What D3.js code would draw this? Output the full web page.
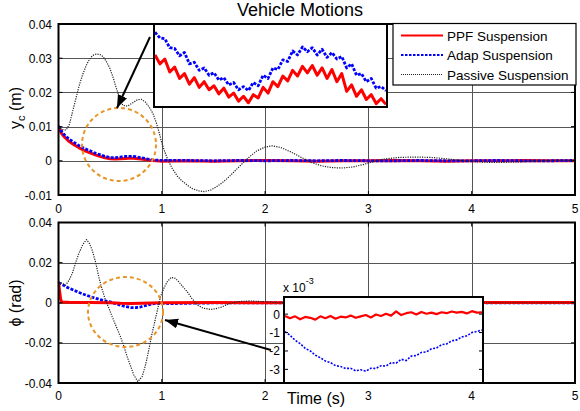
<!DOCTYPE html>
<html>
<head>
<meta charset="utf-8">
<script src="https://cdn.jsdelivr.net/npm/d3@7"></script>
<style>
  html, body { margin: 0; padding: 0; background: #fff; }
  svg { display: block; font-family: 'Liberation Sans', Arial, sans-serif; }
</style>
</head>
<body>
<div id="chart"></div>
<script>
/* ── DATA ── */
const xTicks      = [0, 1, 2, 3, 4, 5];
const topYTicks   = [-0.01, 0, 0.01, 0.02, 0.03, 0.04];
const topYLabels  = ['-0.01', '0', '0.01', '0.02', '0.03', '0.04'];
const botYTicks   = [-0.04, -0.02, 0, 0.02, 0.04];
const botYLabels  = ['-0.04', '-0.02', '0', '0.02', '0.04'];
const insetTicks  = [0, -1, -2, -3];
const legendNames = ['PPF Suspension', 'Adap Suspension', 'Passive Suspension'];

// y_c (m) — [time, value]
const ppfTop = [[0,0.0100],[0.025,0.0082],[0.05,0.0072],[0.1,0.0057],[0.15,0.0047],[0.2,0.0038],[0.25,0.0030],
  [0.3,0.0024],[0.35,0.0018],[0.4,0.0013],[0.45,0.0009],[0.5,0.0006],[0.55,0.0005],[0.6,0.0006],[0.65,0.0007],
  [0.7,0.0008],[0.75,0.0007],[0.8,0.0005],[0.85,0.0003],[0.9,0.0001],[0.95,0.0000],[1.0,-0.0001],[1.25,0.0000],
  [1.5,-0.0001],[1.75,0.0000],[2,0.0001],[2.25,0.0000],[2.5,-0.0001],[2.75,0.0000],[3,0.0000],[3.25,0.0001],
  [3.5,0.0000],[3.75,-0.0001],[4,0.0000],[4.25,0.0000],[4.5,0.0001],[4.75,0.0000],[5,0.0000]];
const adapTop = [[0,0.0102],[0.025,0.0088],[0.05,0.0078],[0.1,0.0064],[0.15,0.0054],[0.2,0.0044],[0.25,0.0036],
  [0.3,0.0030],[0.35,0.0023],[0.4,0.0018],[0.45,0.0013],[0.5,0.0009],[0.55,0.0009],[0.6,0.0011],[0.65,0.0013],
  [0.7,0.0013],[0.75,0.0012],[0.8,0.0009],[0.85,0.0006],[0.9,0.0003],[0.95,0.0002],[1.0,0.0001],[1.25,0.0001],
  [1.5,0.0000],[1.75,0.0001],[2,0.0000],[2.25,0.0001],[2.5,0.0000],[2.75,0.0001],[3,0.0000],[3.25,0.0000],
  [3.5,0.0001],[3.75,0.0000],[4,0.0000],[4.25,0.0001],[4.5,0.0000],[4.75,0.0000],[5,0.0001]];
const passiveTop = [[0,0.0100],[0.04,0.0091],[0.075,0.0090],[0.106,0.0107],[0.14,0.0148],[0.171,0.0185],
  [0.2,0.0220],[0.235,0.0253],[0.27,0.0280],[0.3,0.0297],[0.33,0.0308],[0.365,0.0312],[0.4,0.0311],[0.43,0.0305],
  [0.46,0.0292],[0.494,0.0273],[0.526,0.0246],[0.558,0.0214],[0.59,0.0185],[0.623,0.0162],[0.67,0.0160],
  [0.72,0.0170],[0.76,0.0178],[0.8,0.0180],[0.84,0.0172],[0.88,0.0156],[0.915,0.0138],[0.946,0.0112],
  [0.975,0.0082],[1.0,0.0052],[1.03,0.0025],[1.06,0.0002],[1.1,-0.0022],[1.15,-0.0045],[1.2,-0.0060],
  [1.25,-0.0072],[1.3,-0.0082],[1.36,-0.0088],[1.41,-0.0090],[1.47,-0.0086],[1.53,-0.0076],[1.59,-0.0063],
  [1.65,-0.0047],[1.71,-0.0029],[1.78,-0.0008],[1.85,0.0012],[1.92,0.0029],[2.0,0.0040],[2.07,0.0044],
  [2.15,0.0039],[2.25,0.0026],[2.35,0.0010],[2.45,-0.0005],[2.55,-0.0015],[2.65,-0.0020],[2.75,-0.0021],
  [2.85,-0.0018],[2.95,-0.0011],[3.05,-0.0002],[3.15,0.0005],[3.3,0.0010],[3.45,0.0011],[3.6,0.0010],
  [3.75,0.0006],[3.9,0.0001],[4.05,-0.0003],[4.2,-0.0005],[4.4,-0.0004],[4.6,-0.0001],[4.8,0.0001],[5.0,0.0001]];

// phi (rad) — [time, value]
const ppfBot = [[0,0.0100],[0.01,0.0060],[0.02,0.0020],[0.03,0.0004],[0.1,0.0002],[0.3,0.0001],[0.5,0.0000],
  [0.6,-0.0003],[0.7,-0.0004],[0.8,-0.0002],[1.0,0.0000],[1.5,0.0001],[2,0.0000],[3,0.0001],[4,0.0001],[5,0.0001]];
const adapBot = [[0,0.0100],[0.04,0.0090],[0.08,0.0078],[0.15,0.0062],[0.2,0.0051],[0.25,0.0041],[0.31,0.0030],
  [0.36,0.0022],[0.4,0.0016],[0.45,0.0010],[0.5,0.0004],[0.55,-0.0004],[0.6,-0.0012],[0.65,-0.0019],[0.7,-0.0024],
  [0.75,-0.0024],[0.8,-0.0020],[0.85,-0.0013],[0.9,-0.0006],[0.95,-0.0003],[1.0,-0.0003],[1.1,-0.0004],
  [1.2,-0.0003],[1.3,-0.0002],[1.5,-0.0001],[2,0.0000],[3,0.0000],[4,0.0000],[5,0.0000]];
const passiveBot = [[0,0.0104],[0.068,0.0088],[0.1,0.0110],[0.133,0.0146],[0.165,0.0198],[0.197,0.0246],
  [0.235,0.0290],[0.271,0.0315],[0.3,0.0295],[0.326,0.0262],[0.36,0.0200],[0.39,0.0129],[0.42,0.0070],
  [0.455,0.0013],[0.49,-0.0030],[0.52,-0.0070],[0.56,-0.0120],[0.6,-0.0169],[0.635,-0.0220],[0.665,-0.0269],
  [0.7,-0.0318],[0.729,-0.0360],[0.768,-0.0393],[0.81,-0.0368],[0.845,-0.0305],[0.874,-0.0235],[0.905,-0.0155],
  [0.939,-0.0078],[0.965,-0.0020],[0.987,0.0030],[1.02,0.0072],[1.052,0.0104],[1.09,0.0126],[1.13,0.0122],
  [1.165,0.0104],[1.2,0.0082],[1.246,0.0055],[1.29,0.0022],[1.343,-0.0011],[1.4,-0.0027],[1.47,-0.0033],
  [1.52,-0.0030],[1.57,-0.0023],[1.62,-0.0012],[1.66,-0.0003],[1.75,0.0006],[1.85,0.0009],[2.0,0.0005],
  [2.2,-0.0002],[2.5,-0.0003],[3.0,0.0001],[3.5,0.0001],[4.0,0.0000],[4.5,0.0000],[5.0,0.0000]];

// zoomed insets (samples evenly spaced across the inset width)
const topInsetAdap = [0.91,0.84,0.83,0.72,0.71,0.62,0.66,0.52,0.54,0.44,0.47,0.38,0.41,0.32,0.35,0.26,0.29,0.20,
  0.24,0.19,0.29,0.25,0.38,0.34,0.47,0.45,0.57,0.55,0.68,0.63,0.73,0.67,0.72,0.63,0.70,0.60,0.66,0.58,0.61,0.47,
  0.52,0.38,0.40,0.30,0.34,0.22,0.24,0.19];
const topInsetPPF = [0.63,0.52,0.58,0.42,0.48,0.34,0.40,0.27,0.35,0.23,0.30,0.20,0.25,0.15,0.22,0.11,0.16,0.06,
  0.12,0.04,0.14,0.10,0.23,0.16,0.30,0.24,0.37,0.31,0.44,0.37,0.49,0.41,0.50,0.38,0.47,0.34,0.45,0.30,0.40,0.18,
  0.26,0.12,0.20,0.08,0.14,0.03,0.09,0.02];
const botInsetAdap = [-0.95,-1.15,-1.42,-1.60,-1.86,-2.00,-2.23,-2.37,-2.55,-2.63,-2.80,-2.84,-2.95,-2.94,-3.08,
  -3.02,-3.10,-2.94,-2.95,-2.80,-2.82,-2.64,-2.66,-2.45,-2.52,-2.28,-2.25,-2.08,-2.05,-1.88,-1.84,-1.66,-1.62,
  -1.45,-1.40,-1.24,-1.18,-1.00,-0.94,-0.86];
const botInsetPPF = [-0.10,-0.22,-0.12,-0.28,-0.15,-0.20,-0.30,-0.12,-0.22,-0.10,-0.25,-0.14,-0.18,-0.08,-0.20,
  -0.12,-0.05,-0.18,-0.02,-0.10,0.02,-0.08,0.15,-0.05,0.05,0.10,-0.02,0.12,0.02,0.08,0.00,0.10,0.05,0.14,0.08,
  0.12,0.04,0.16,0.08,0.10];

/* ── STYLE ── */
const W = 580, H = 411;
const RED = '#ff0000', BLUE = '#0000ff', DOT = '#222', ORANGE = '#e8952a', GRID = '#555';
const STYLES = {
  ppf:     { stroke: RED,  width: 3,   dash: null },
  adap:    { stroke: BLUE, width: 2.8, dash: '3,1.5' },
  passive: { stroke: DOT,  width: 1.2, dash: '1.2,1.2' },
};

const svg = d3.select('#chart').append('svg').attr('width', W).attr('height', H);
svg.append('rect').attr('width', W).attr('height', H).attr('fill', '#fff');

const defs = svg.append('defs');
defs.append('marker').attr('id', 'head')
  .attr('markerUnits', 'userSpaceOnUse').attr('markerWidth', 14).attr('markerHeight', 12)
  .attr('refX', 13).attr('refY', 5).attr('orient', 'auto')
  .append('path').attr('d', 'M0,0 L13,5 L0,10 Z').attr('fill', '#000');

const x = d3.scaleLinear().domain([0, 5]).range([58.5, 575]);

function line(xs, ys) {
  return d3.line().x(d => xs(d[0])).y(d => ys(d[1]));
}
function styled(sel, key) {
  const s = STYLES[key];
  sel.attr('fill', 'none').attr('stroke', s.stroke).attr('stroke-width', s.width)
     .attr('stroke-linejoin', 'round');
  if (s.dash) sel.attr('stroke-dasharray', s.dash);
  return sel;
}

/* ── PANEL ── */
function panel(id, y, yTicks, yLabels, series, tickY) {
  const [x0, x1] = x.range(), [y1, y0] = y.range();
  const g = svg.append('g');
  defs.append('clipPath').attr('id', 'clip-' + id)
    .append('rect').attr('x', x0).attr('y', y0).attr('width', x1 - x0).attr('height', y1 - y0);

  // gridlines
  g.append('g').selectAll('line').data(xTicks.slice(1, -1)).join('line')
    .attr('x1', d => Math.round(x(d)) + 0.5).attr('x2', d => Math.round(x(d)) + 0.5)
    .attr('y1', y0).attr('y2', y1).attr('stroke', GRID).attr('stroke-width', 1);
  g.append('g').selectAll('line').data(yTicks.slice(1, -1)).join('line')
    .attr('y1', d => Math.round(y(d)) + 0.5).attr('y2', d => Math.round(y(d)) + 0.5)
    .attr('x1', x0).attr('x2', x1).attr('stroke', GRID).attr('stroke-width', 1);

  // series
  const lines = g.append('g').attr('clip-path', `url(#clip-${id})`);
  series.forEach(([key, data]) => {
    styled(lines.append('path').datum(data).attr('d', line(x, y)), key);
  });

  // tick labels
  g.append('g').selectAll('text').data(xTicks).join('text')
    .attr('x', d => x(d)).attr('y', tickY).attr('text-anchor', 'middle')
    .attr('font-size', 12).text(d => d);
  g.append('g').selectAll('text').data(yTicks).join('text')
    .attr('x', 52).attr('y', d => y(d) + 4.5).attr('text-anchor', 'end')
    .attr('font-size', 12).text((d, i) => yLabels[i]);
  return g;
}

function frame(g, y, yTicks) {
  const [x0, x1] = x.range(), [y1, y0] = y.range();
  const t = g.append('g').attr('stroke', '#000').attr('stroke-width', 1);
  xTicks.forEach(d => {
    t.append('line').attr('x1', x(d)).attr('x2', x(d)).attr('y1', y1).attr('y2', y1 - 4);
    t.append('line').attr('x1', x(d)).attr('x2', x(d)).attr('y1', y0).attr('y2', y0 + 4);
  });
  yTicks.forEach(d => {
    t.append('line').attr('x1', x0).attr('x2', x0 + 4).attr('y1', y(d)).attr('y2', y(d));
    t.append('line').attr('x1', x1).attr('x2', x1 - 4).attr('y1', y(d)).attr('y2', y(d));
  });
  g.append('rect').attr('x', x0).attr('y', y0).attr('width', x1 - x0).attr('height', y1 - y0)
    .attr('fill', 'none').attr('stroke', '#000').attr('stroke-width', 2);
}

function arrow(g, from, to) {
  g.append('line').attr('x1', from[0]).attr('y1', from[1]).attr('x2', to[0]).attr('y2', to[1])
    .attr('stroke', '#000').attr('stroke-width', 2).attr('marker-end', 'url(#head)');
}
function ring(g, cx, cy, rx, ry) {
  g.append('ellipse').attr('cx', cx).attr('cy', cy).attr('rx', rx).attr('ry', ry)
    .attr('fill', 'none').attr('stroke', ORANGE).attr('stroke-width', 2).attr('stroke-dasharray', '4,3');
}

/* ── TOP: y_c ── */
const yTop = d3.scaleLinear().domain([-0.01, 0.04]).range([195, 24]);
const gTop = panel('top', yTop, topYTicks, topYLabels,
  [['ppf', ppfTop], ['adap', adapTop], ['passive', passiveTop]], 213);
frame(gTop, yTop, topYTicks);
ring(gTop, 119, 144.5, 37, 36.5);

// top inset
const ti = { x: 154, y: 24, w: 233, h: 83 };
gTop.append('rect').attr('x', ti.x).attr('y', ti.y).attr('width', ti.w).attr('height', ti.h)
  .attr('fill', '#fff');
const tix = d3.scaleLinear().domain([0, topInsetAdap.length - 1]).range([ti.x + 1, ti.x + ti.w - 1]);
const tiy = d3.scaleLinear().domain([0, 1]).range([ti.y + ti.h - 1, ti.y + 1]);
styled(gTop.append('path').datum(topInsetPPF.map((v, i) => [i, v])).attr('d', line(tix, tiy)), 'ppf');
styled(gTop.append('path').datum(topInsetAdap.map((v, i) => [i, v])).attr('d', line(tix, tiy)), 'adap');
gTop.append('rect').attr('x', ti.x).attr('y', ti.y).attr('width', ti.w).attr('height', ti.h)
  .attr('fill', 'none').attr('stroke', '#000').attr('stroke-width', 2);

// legend
const lg = gTop.append('g').attr('transform', 'translate(393,23.5)');
lg.append('rect').attr('width', 183).attr('height', 61.5).attr('fill', '#fff')
  .attr('stroke', '#000').attr('stroke-width', 1.2);
['ppf', 'adap', 'passive'].forEach((k, i) => {
  const ly = 12 + i * 19.5;
  const s = STYLES[k];
  const l = lg.append('line').attr('x1', 8).attr('x2', 50).attr('y1', ly).attr('y2', ly)
    .attr('stroke', s.stroke).attr('stroke-width', k === 'passive' ? 1 : 2);
  if (s.dash) l.attr('stroke-dasharray', k === 'adap' ? '2.5,1.5' : '1,1');
  lg.append('text').attr('x', 54).attr('y', ly + 5).attr('font-size', 13.5).text(legendNames[i]);
});

arrow(gTop, [150, 37], [117, 108]);

/* ── BOTTOM: phi ── */
const yBot = d3.scaleLinear().domain([-0.04, 0.04]).range([383, 222.5]);
const gBot = panel('bot', yBot, botYTicks, botYLabels,
  [['adap', adapBot], ['ppf', ppfBot], ['passive', passiveBot]], 399.5);
frame(gBot, yBot, botYTicks);
ring(gBot, 125.5, 312, 37.5, 35);

// bottom inset
const bi = { x: 284, y: 297, w: 199, h: 86 };
const biy = d3.scaleLinear().domain([-3.74, 0.93]).range([bi.y + bi.h, bi.y]);
const bix = d3.scaleLinear().domain([0, botInsetAdap.length - 1]).range([bi.x + 1, bi.x + bi.w - 1]);
gBot.append('rect').attr('x', bi.x).attr('y', bi.y).attr('width', bi.w).attr('height', bi.h)
  .attr('fill', '#fff');
styled(gBot.append('path').datum(botInsetPPF.map((v, i) => [i, v])).attr('d', line(bix, biy)), 'ppf')
  .attr('stroke-width', 2.2);
gBot.append('path').datum(botInsetAdap.map((v, i) => [i, v])).attr('d', line(bix, biy))
  .attr('fill', 'none').attr('stroke', BLUE).attr('stroke-width', 1.6).attr('stroke-dasharray', '2,1.5');
insetTicks.forEach(d => {
  gBot.append('line').attr('x1', bi.x).attr('x2', bi.x + 4).attr('y1', biy(d)).attr('y2', biy(d))
    .attr('stroke', '#000');
  gBot.append('line').attr('x1', bi.x + bi.w).attr('x2', bi.x + bi.w - 4).attr('y1', biy(d)).attr('y2', biy(d))
    .attr('stroke', '#000');
  gBot.append('text').attr('x', 280).attr('y', biy(d) + 4.5).attr('text-anchor', 'end')
    .attr('font-size', 12).text(d);
});
gBot.append('rect').attr('x', bi.x).attr('y', bi.y).attr('width', bi.w).attr('height', bi.h)
  .attr('fill', 'none').attr('stroke', '#000').attr('stroke-width', 2);
const exp = gBot.append('text').attr('x', 283).attr('y', 292).attr('font-size', 12);
exp.append('tspan').text('x 10');
exp.append('tspan').attr('font-size', 9).attr('dy', -8).text('-3');

arrow(gBot, [271, 350], [165, 320]);

/* ── TITLES & LABELS ── */
svg.append('text').attr('x', 300).attr('y', 16).attr('text-anchor', 'middle')
  .attr('font-size', 18).text('Vehicle Motions');
const yl = svg.append('text').attr('transform', 'translate(21,108) rotate(-90)')
  .attr('text-anchor', 'middle').attr('font-size', 16);
yl.append('tspan').text('y');
yl.append('tspan').attr('font-size', 11).attr('dy', 4).text('c');
yl.append('tspan').attr('dy', -4).text(' (m)');
svg.append('text').attr('transform', 'translate(21,303) rotate(-90)')
  .attr('text-anchor', 'middle').attr('font-size', 16).text('\u03d5 (rad)');
svg.append('text').attr('x', 316).attr('y', 404).attr('text-anchor', 'middle')
  .attr('font-size', 16).text('Time (s)');
</script>
</body>
</html>
